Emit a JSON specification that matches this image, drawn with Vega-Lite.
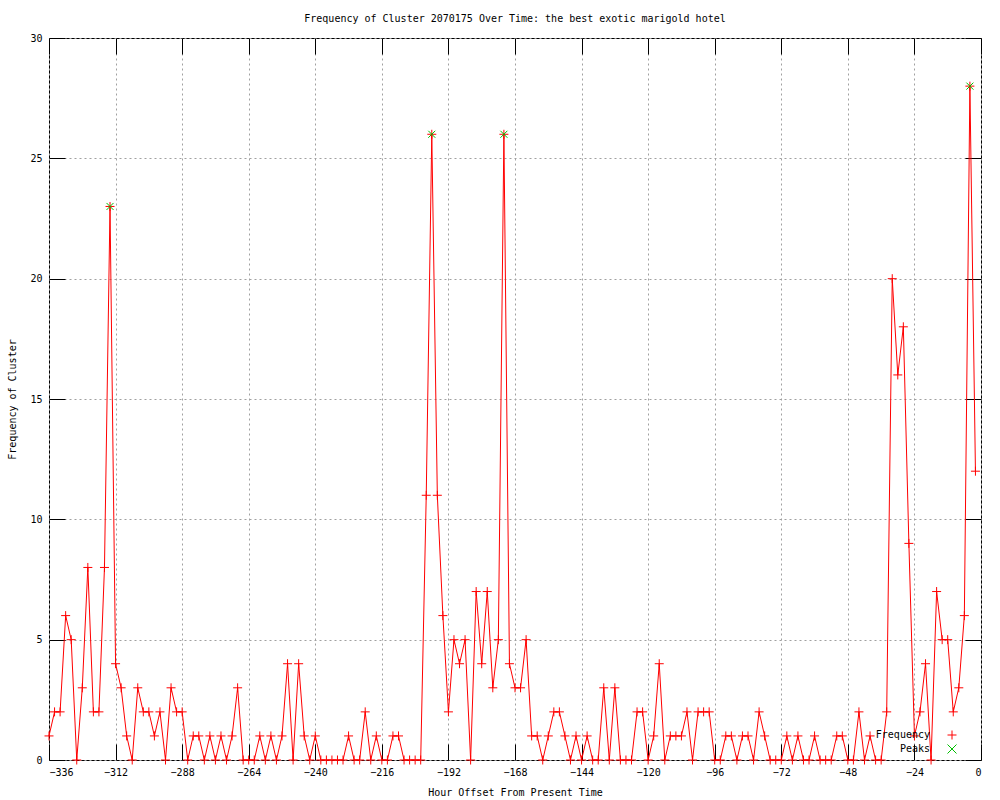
{
  "$schema": "https://vega.github.io/schema/vega-lite/v6.json",
  "width": 932,
  "height": 722,
  "autosize": "none",
  "padding": {"left": 49, "top": 38, "right": 19, "bottom": 40},
  "background": "white",
  "title": {"text": "Frequency of Cluster 2070175 Over Time: the best exotic marigold hotel", "font": "DejaVu Sans Mono", "fontSize": 10, "fontWeight": "normal", "color": "black", "offset": 9},
  "config": {
    "view": {"stroke": "black", "strokeWidth": 1},
    "axis": {
      "labelFont": "DejaVu Sans Mono", "labelFontSize": 10, "labelColor": "black",
      "titleFont": "DejaVu Sans Mono", "titleFontSize": 10, "titleFontWeight": "normal", "titleColor": "black",
      "domain": false, "tickColor": "black", "tickSize": -16, "labelPadding": 23,
      "gridColor": "#a0a0a0", "gridDash": [2, 3], "gridOpacity": 1
    },
    "legend": {"labelFont": "DejaVu Sans Mono", "labelFontSize": 10, "labelColor": "black"}
  },
  "data": {"values": [
    {"h":-336,"f":1,"s":"Frequency"},{"h":-334,"f":2,"s":"Frequency"},{"h":-332,"f":2,"s":"Frequency"},{"h":-330,"f":6,"s":"Frequency"},{"h":-328,"f":5,"s":"Frequency"},{"h":-326,"f":0,"s":"Frequency"},{"h":-324,"f":3,"s":"Frequency"},{"h":-322,"f":8,"s":"Frequency"},{"h":-320,"f":2,"s":"Frequency"},{"h":-318,"f":2,"s":"Frequency"},{"h":-316,"f":8,"s":"Frequency"},{"h":-314,"f":23,"s":"Frequency","p":"Peaks"},{"h":-312,"f":4,"s":"Frequency"},{"h":-310,"f":3,"s":"Frequency"},{"h":-308,"f":1,"s":"Frequency"},{"h":-306,"f":0,"s":"Frequency"},{"h":-304,"f":3,"s":"Frequency"},{"h":-302,"f":2,"s":"Frequency"},{"h":-300,"f":2,"s":"Frequency"},{"h":-298,"f":1,"s":"Frequency"},{"h":-296,"f":2,"s":"Frequency"},{"h":-294,"f":0,"s":"Frequency"},{"h":-292,"f":3,"s":"Frequency"},{"h":-290,"f":2,"s":"Frequency"},{"h":-288,"f":2,"s":"Frequency"},{"h":-286,"f":0,"s":"Frequency"},{"h":-284,"f":1,"s":"Frequency"},{"h":-282,"f":1,"s":"Frequency"},{"h":-280,"f":0,"s":"Frequency"},{"h":-278,"f":1,"s":"Frequency"},{"h":-276,"f":0,"s":"Frequency"},{"h":-274,"f":1,"s":"Frequency"},{"h":-272,"f":0,"s":"Frequency"},{"h":-270,"f":1,"s":"Frequency"},{"h":-268,"f":3,"s":"Frequency"},{"h":-266,"f":0,"s":"Frequency"},{"h":-264,"f":0,"s":"Frequency"},{"h":-262,"f":0,"s":"Frequency"},{"h":-260,"f":1,"s":"Frequency"},{"h":-258,"f":0,"s":"Frequency"},{"h":-256,"f":1,"s":"Frequency"},{"h":-254,"f":0,"s":"Frequency"},{"h":-252,"f":1,"s":"Frequency"},{"h":-250,"f":4,"s":"Frequency"},{"h":-248,"f":0,"s":"Frequency"},{"h":-246,"f":4,"s":"Frequency"},{"h":-244,"f":1,"s":"Frequency"},{"h":-242,"f":0,"s":"Frequency"},{"h":-240,"f":1,"s":"Frequency"},{"h":-238,"f":0,"s":"Frequency"},{"h":-236,"f":0,"s":"Frequency"},{"h":-234,"f":0,"s":"Frequency"},{"h":-232,"f":0,"s":"Frequency"},{"h":-230,"f":0,"s":"Frequency"},{"h":-228,"f":1,"s":"Frequency"},{"h":-226,"f":0,"s":"Frequency"},{"h":-224,"f":0,"s":"Frequency"},{"h":-222,"f":2,"s":"Frequency"},{"h":-220,"f":0,"s":"Frequency"},{"h":-218,"f":1,"s":"Frequency"},{"h":-216,"f":0,"s":"Frequency"},{"h":-214,"f":0,"s":"Frequency"},{"h":-212,"f":1,"s":"Frequency"},{"h":-210,"f":1,"s":"Frequency"},{"h":-208,"f":0,"s":"Frequency"},{"h":-206,"f":0,"s":"Frequency"},{"h":-204,"f":0,"s":"Frequency"},{"h":-202,"f":0,"s":"Frequency"},{"h":-200,"f":11,"s":"Frequency"},{"h":-198,"f":26,"s":"Frequency","p":"Peaks"},{"h":-196,"f":11,"s":"Frequency"},{"h":-194,"f":6,"s":"Frequency"},{"h":-192,"f":2,"s":"Frequency"},{"h":-190,"f":5,"s":"Frequency"},{"h":-188,"f":4,"s":"Frequency"},{"h":-186,"f":5,"s":"Frequency"},{"h":-184,"f":0,"s":"Frequency"},{"h":-182,"f":7,"s":"Frequency"},{"h":-180,"f":4,"s":"Frequency"},{"h":-178,"f":7,"s":"Frequency"},{"h":-176,"f":3,"s":"Frequency"},{"h":-174,"f":5,"s":"Frequency"},{"h":-172,"f":26,"s":"Frequency","p":"Peaks"},{"h":-170,"f":4,"s":"Frequency"},{"h":-168,"f":3,"s":"Frequency"},{"h":-166,"f":3,"s":"Frequency"},{"h":-164,"f":5,"s":"Frequency"},{"h":-162,"f":1,"s":"Frequency"},{"h":-160,"f":1,"s":"Frequency"},{"h":-158,"f":0,"s":"Frequency"},{"h":-156,"f":1,"s":"Frequency"},{"h":-154,"f":2,"s":"Frequency"},{"h":-152,"f":2,"s":"Frequency"},{"h":-150,"f":1,"s":"Frequency"},{"h":-148,"f":0,"s":"Frequency"},{"h":-146,"f":1,"s":"Frequency"},{"h":-144,"f":0,"s":"Frequency"},{"h":-142,"f":1,"s":"Frequency"},{"h":-140,"f":0,"s":"Frequency"},{"h":-138,"f":0,"s":"Frequency"},{"h":-136,"f":3,"s":"Frequency"},{"h":-134,"f":0,"s":"Frequency"},{"h":-132,"f":3,"s":"Frequency"},{"h":-130,"f":0,"s":"Frequency"},{"h":-128,"f":0,"s":"Frequency"},{"h":-126,"f":0,"s":"Frequency"},{"h":-124,"f":2,"s":"Frequency"},{"h":-122,"f":2,"s":"Frequency"},{"h":-120,"f":0,"s":"Frequency"},{"h":-118,"f":1,"s":"Frequency"},{"h":-116,"f":4,"s":"Frequency"},{"h":-114,"f":0,"s":"Frequency"},{"h":-112,"f":1,"s":"Frequency"},{"h":-110,"f":1,"s":"Frequency"},{"h":-108,"f":1,"s":"Frequency"},{"h":-106,"f":2,"s":"Frequency"},{"h":-104,"f":0,"s":"Frequency"},{"h":-102,"f":2,"s":"Frequency"},{"h":-100,"f":2,"s":"Frequency"},{"h":-98,"f":2,"s":"Frequency"},{"h":-96,"f":0,"s":"Frequency"},{"h":-94,"f":0,"s":"Frequency"},{"h":-92,"f":1,"s":"Frequency"},{"h":-90,"f":1,"s":"Frequency"},{"h":-88,"f":0,"s":"Frequency"},{"h":-86,"f":1,"s":"Frequency"},{"h":-84,"f":1,"s":"Frequency"},{"h":-82,"f":0,"s":"Frequency"},{"h":-80,"f":2,"s":"Frequency"},{"h":-78,"f":1,"s":"Frequency"},{"h":-76,"f":0,"s":"Frequency"},{"h":-74,"f":0,"s":"Frequency"},{"h":-72,"f":0,"s":"Frequency"},{"h":-70,"f":1,"s":"Frequency"},{"h":-68,"f":0,"s":"Frequency"},{"h":-66,"f":1,"s":"Frequency"},{"h":-64,"f":0,"s":"Frequency"},{"h":-62,"f":0,"s":"Frequency"},{"h":-60,"f":1,"s":"Frequency"},{"h":-58,"f":0,"s":"Frequency"},{"h":-56,"f":0,"s":"Frequency"},{"h":-54,"f":0,"s":"Frequency"},{"h":-52,"f":1,"s":"Frequency"},{"h":-50,"f":1,"s":"Frequency"},{"h":-48,"f":0,"s":"Frequency"},{"h":-46,"f":0,"s":"Frequency"},{"h":-44,"f":2,"s":"Frequency"},{"h":-42,"f":0,"s":"Frequency"},{"h":-40,"f":1,"s":"Frequency"},{"h":-38,"f":0,"s":"Frequency"},{"h":-36,"f":0,"s":"Frequency"},{"h":-34,"f":2,"s":"Frequency"},{"h":-32,"f":20,"s":"Frequency"},{"h":-30,"f":16,"s":"Frequency"},{"h":-28,"f":18,"s":"Frequency"},{"h":-26,"f":9,"s":"Frequency"},{"h":-24,"f":1,"s":"Frequency"},{"h":-22,"f":2,"s":"Frequency"},{"h":-20,"f":4,"s":"Frequency"},{"h":-18,"f":0,"s":"Frequency"},{"h":-16,"f":7,"s":"Frequency"},{"h":-14,"f":5,"s":"Frequency"},{"h":-12,"f":5,"s":"Frequency"},{"h":-10,"f":2,"s":"Frequency"},{"h":-8,"f":3,"s":"Frequency"},{"h":-6,"f":6,"s":"Frequency"},{"h":-4,"f":28,"s":"Frequency","p":"Peaks"},{"h":-2,"f":12,"s":"Frequency"}
  ]},
  "layer": [
    {
      "mark": {"type": "line", "color": "#ff0000", "strokeWidth": 1},
      "encoding": {
        "x": {"field": "h", "type": "quantitative", "scale": {"domain": [-336, 0], "nice": false, "zero": false}, "axis": {"values": [-336,-312,-288,-264,-240,-216,-192,-168,-144,-120,-96,-72,-48,-24,0], "title": "Hour Offset From Present Time", "titlePadding": 10, "grid": true}},
        "y": {"field": "f", "type": "quantitative", "scale": {"domain": [0, 30], "nice": false}, "axis": {"values": [0,5,10,15,20,25,30], "title": "Frequency of Cluster", "titlePadding": 12, "grid": true}}
      }
    },
    {
      "mark": {"type": "point", "filled": false, "strokeWidth": 1, "size": 81, "opacity": 1},
      "encoding": {
        "x": {"field": "h", "type": "quantitative", "axis": null},
        "y": {"field": "f", "type": "quantitative", "axis": null},
        "color": {"field": "s", "type": "nominal", "scale": {"domain": ["Frequency", "Peaks"], "range": ["#ff0000", "#00c000"]}, "legend": {"title": null, "orient": "none", "legendX": 898, "legendY": 692, "labelAlign": "right", "labelOffset": -27, "rowPadding": 0, "symbolStrokeWidth": 1, "symbolSize": 81}},
        "shape": {"field": "s", "type": "nominal", "scale": {"domain": ["Frequency", "Peaks"], "range": ["M-1,0L1,0M0,-1L0,1", "M-1,-1L1,1M-1,1L1,-1"]}, "legend": {"title": null, "orient": "none", "legendX": 898, "legendY": 692, "labelAlign": "right", "labelOffset": -27, "rowPadding": 0, "symbolStrokeWidth": 1, "symbolSize": 81}}
      }
    },
    {
      "transform": [{"filter": "datum.p == 'Peaks'"}],
      "mark": {"type": "point", "filled": false, "strokeWidth": 1, "size": 49, "opacity": 1},
      "encoding": {
        "x": {"field": "h", "type": "quantitative", "axis": {"orient": "top", "values": [-336,-312,-288,-264,-240,-216,-192,-168,-144,-120,-96,-72,-48,-24,0], "labels": false, "title": null, "grid": false}},
        "y": {"field": "f", "type": "quantitative", "axis": {"orient": "right", "values": [0,5,10,15,20,25,30], "labels": false, "title": null, "grid": false}},
        "color": {"field": "p", "type": "nominal"},
        "shape": {"field": "p", "type": "nominal"}
      }
    }
  ],
  "resolve": {"axis": {"x": "independent", "y": "independent"}}
}
